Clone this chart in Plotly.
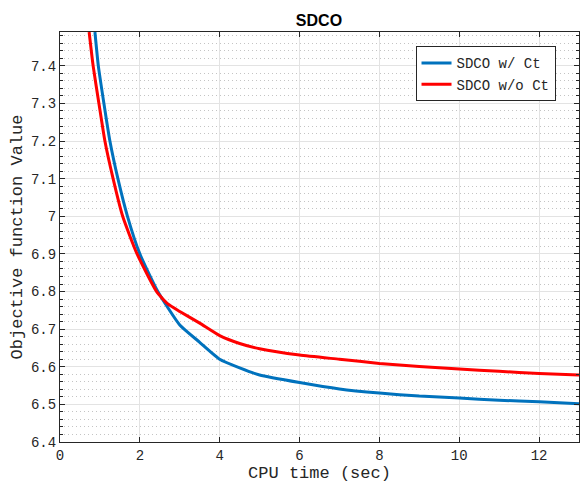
import plotly.graph_objects as go

blue_x = [0.875, 0.96, 1.1, 1.25, 1.45, 1.69, 2.0, 2.45, 3.0, 3.5, 4.0, 4.5, 5, 6, 7, 8, 9, 10, 11, 12, 13]
blue_y = [7.49, 7.4, 7.3, 7.2, 7.1, 7.0, 6.9, 6.8, 6.711, 6.665, 6.62, 6.597, 6.578, 6.558, 6.541, 6.530, 6.522, 6.517, 6.511, 6.507, 6.502]
red_x = [0.73, 0.83, 0.975, 1.125, 1.33, 1.57, 1.93, 2.42, 2.7, 3.0, 3.5, 4.0, 4.5, 5, 6, 7, 8, 9, 10, 11, 12, 13]
red_y = [7.49, 7.4, 7.3, 7.2, 7.1, 7.0, 6.9, 6.8, 6.767, 6.747, 6.716, 6.683, 6.662, 6.648, 6.631, 6.62, 6.609, 6.601, 6.594, 6.588, 6.582, 6.578]

mono = "Liberation Mono, Courier New, monospace"
ink = "#262626"

fig = go.Figure()
fig.add_trace(go.Scatter(x=blue_x, y=blue_y, mode="lines", name="SDCO w/ Ct",
                         line=dict(color="#0072BD", width=3, shape="spline", smoothing=0.5)))
fig.add_trace(go.Scatter(x=red_x, y=red_y, mode="lines", name="SDCO w/o Ct",
                         line=dict(color="#FF0000", width=3, shape="spline", smoothing=0.5)))

fig.update_layout(
    width=581, height=483,
    margin=dict(l=60, r=2, t=32, b=41),
    paper_bgcolor="white", plot_bgcolor="white",
    title=dict(text="<b>SDCO</b>", x=0.549, xanchor="center", y=0.957, yanchor="middle",
               font=dict(family="Liberation Sans, Arial", size=16, color="black")),
    font=dict(family=mono, size=14, color=ink),
    showlegend=True,
    legend=dict(x=0.685, y=0.965, xanchor="left", yanchor="top",
                bgcolor="white", bordercolor=ink, borderwidth=1,
                font=dict(family=mono, size=14, color=ink),
                tracegroupgap=0, itemwidth=30),
    xaxis=dict(range=[0, 13], dtick=2, tick0=0,
               showline=True, linecolor=ink, linewidth=1, mirror="ticks",
               ticks="inside", ticklen=5, tickcolor=ink,
               showgrid=True, gridcolor="#E3E3E3", gridwidth=1, zeroline=False,
               title=dict(text="CPU time (sec)", font=dict(family=mono, size=17, color=ink), standoff=5),
               tickfont=dict(family=mono, size=14, color=ink)),
    yaxis=dict(range=[6.4, 7.49], dtick=0.1, tick0=6.4,
               showline=True, linecolor=ink, linewidth=1, mirror="ticks",
               ticks="inside", ticklen=5, tickcolor=ink,
               showgrid=True, gridcolor="#E3E3E3", gridwidth=1, zeroline=False,
               minor=dict(dtick=0.02, ticks="inside", ticklen=3, tickcolor=ink,
                          showgrid=True, gridcolor="#C4C4C4", griddash="1px,3px", gridwidth=1),
               title=dict(text="Objective function Value", font=dict(family=mono, size=17, color=ink), standoff=4),
               tickfont=dict(family=mono, size=14, color=ink)),
)

fig.write_html("out.html", config={"displayModeBar": False},
               post_script="document.body.style.margin='0';")
